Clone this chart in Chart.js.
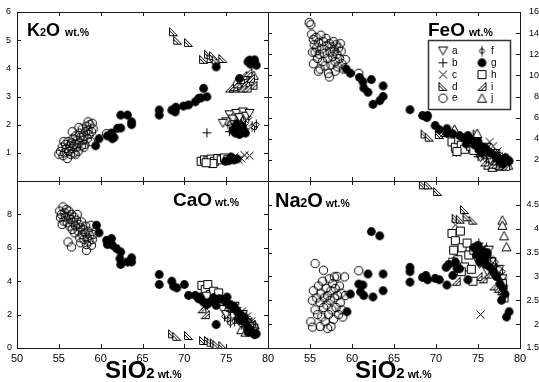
<!DOCTYPE html>
<html>
<head>
<meta charset="utf-8">
<script src="https://cdn.jsdelivr.net/npm/chart.js@4.4.0/dist/chart.umd.min.js"></script>
<style>
  body { margin: 0; background: #fff; }
  #wrap { position: relative; width: 539px; height: 382px; }
  #wrap canvas { position: absolute; left: 0; top: 0; }
</style>
</head>
<body>
<div id="wrap">
  <canvas id="k2o" width="539" height="382"></canvas>
  <canvas id="feo" width="539" height="382"></canvas>
  <canvas id="cao" width="539" height="382"></canvas>
  <canvas id="na2o" width="539" height="382"></canvas>
</div>
<script>
// groups a..j, each as [SiO2, oxide] pairs
const groups = ['a', 'b', 'c', 'd', 'e', 'f', 'g', 'h', 'i', 'j'];

// K2O wt.%
const k2o_a = [[75.0,2.1],[75.4,2.35],[75.8,2.2],[76.2,2.4],[76.6,2.25],[77.0,2.45],[77.4,2.3],[77.8,2.4],[76.0,2.0],[74.6,2.05]];
const k2o_b = [[72.7,1.71],[75.4,1.75],[76.2,1.95],[76.8,2.05],[77.3,1.85]];
const k2o_c = [[75.5,0.78],[76.0,0.86],[76.5,0.75],[76.8,0.8],[77.2,0.92],[77.8,0.9]];
const k2o_d = [[68.7,5.3],[69.2,5.0],[70.5,4.92],[72.3,4.32],[72.9,4.5],[73.2,4.35],[73.5,4.45],[73.8,4.3],[74.6,4.35]];
const k2o_e = [[55.0,0.95],[55.2,1.05],[55.4,1.2],[55.5,0.9],[55.7,1.0],[55.8,1.3],[55.9,1.15],[56.0,0.8],[56.1,1.4],[56.2,1.05],[56.3,1.25],[56.4,0.95],[56.5,1.35],[56.6,1.15],[56.7,1.5],[56.8,1.0],[56.9,1.3],[57.0,1.6],[57.1,1.2],[57.2,1.45],[57.3,1.05],[57.4,1.35],[57.5,1.7],[57.6,1.55],[57.7,1.25],[57.8,1.85],[57.9,1.45],[58.0,1.6],[58.1,1.3],[58.2,1.75],[58.3,1.95],[58.4,1.5],[58.5,1.8],[58.6,1.65],[58.7,2.0],[58.8,1.4],[58.9,1.75],[59.0,2.05],[59.1,1.85],[57.4,1.9],[56.6,1.75],[55.6,1.4],[58.5,2.1],[58.0,1.2],[57.0,0.95],[60.7,1.68]];
const k2o_f = [[75.2,2.05],[75.7,1.95],[76.3,2.1],[76.8,2.2],[77.3,2.05],[77.7,2.25],[78.1,1.95],[78.4,1.9],[78.6,2.0],[77.1,2.35]];
const k2o_g = [[59.4,1.25],[59.8,1.5],[60.8,1.6],[61.3,1.7],[61.4,1.5],[61.6,1.55],[62.0,1.87],[62.4,1.88],[62.4,2.34],[63.2,2.34],[63.7,2.1],[63.7,2.0],[67.0,2.52],[67.0,2.34],[68.5,2.52],[68.9,2.58],[68.9,2.45],[69.0,2.62],[69.9,2.66],[70.5,2.7],[71.3,2.81],[71.7,2.93],[72.0,2.95],[72.3,3.29],[72.7,2.99],[73.8,4.05],[77.6,4.23],[78.2,4.23],[78.6,4.11],[77.8,4.29],[77.9,4.15],[78.4,4.3],[76.6,3.64],[75.8,1.8],[76.1,1.7],[76.4,1.9],[76.7,1.75],[77.0,1.85],[77.3,1.7],[76.2,2.0],[76.9,1.95],[76.6,1.65],[75.9,0.75],[75.3,0.72],[75.6,0.85],[76.3,0.78],[74.9,0.7]];
const k2o_h = [[72.0,0.7],[72.4,0.75],[72.8,0.72],[73.2,0.78],[73.6,0.7],[74.0,0.8],[74.4,0.75],[74.8,0.82],[73.4,0.62],[72.6,0.65],[75.2,0.76]];
const k2o_i = [[75.4,3.3],[75.9,3.35],[76.3,3.45],[76.7,3.6],[77.0,3.75],[77.3,3.5],[77.6,3.85],[77.9,3.65],[78.2,3.4],[76.9,3.3],[77.5,3.3]];
const k2o_j = [[76.0,3.3],[76.5,3.4],[77.0,3.5],[77.4,3.65],[77.8,3.55],[78.3,3.75],[77.2,3.35],[76.2,3.5]];

// FeO wt.%
const feo_a = [[74.9,2.6],[75.3,2.2],[75.7,2.9],[76.1,2.4],[76.5,2.0],[77.0,2.6],[77.4,1.9],[74.6,3.1],[77.8,1.7],[76.0,3.2]];
const feo_b = [[72.4,2.7],[75.0,2.3],[76.0,2.1],[76.7,2.5],[77.3,1.9]];
const feo_c = [[72.4,2.7],[76.4,3.7],[76.8,3.3],[77.3,2.8],[75.8,2.5],[77.8,2.3]];
const feo_d = [[68.7,4.45],[69.2,4.15],[70.4,4.4],[72.3,3.6],[72.9,3.9],[73.5,3.4],[74.0,3.3],[74.6,3.0],[74.9,4.45]];
const feo_e = [[54.9,15.0],[55.1,14.8],[55.2,13.9],[55.4,13.4],[55.5,12.9],[55.6,12.2],[55.4,11.1],[55.7,13.6],[55.8,12.6],[55.9,11.6],[56.0,13.1],[56.1,12.0],[56.2,10.6],[56.3,13.8],[56.4,12.5],[56.5,11.3],[56.6,13.2],[56.7,12.1],[56.8,10.9],[56.9,13.5],[57.0,12.8],[57.1,11.6],[57.2,10.2],[57.3,13.0],[57.4,12.2],[57.5,11.0],[57.6,12.7],[57.7,11.8],[57.8,13.2],[57.9,12.3],[58.0,11.3],[58.1,12.9],[58.2,12.0],[58.3,10.8],[58.4,12.6],[58.5,11.6],[58.6,13.0],[58.7,12.3],[58.8,11.1],[59.0,10.6],[56.0,10.4],[57.3,9.85],[58.0,10.4],[59.2,11.5],[55.3,12.2],[60.8,10.2]];
const feo_f = [[75.2,2.8],[75.6,2.4],[76.0,3.0],[76.4,2.6],[76.8,2.2],[77.2,2.0],[77.6,2.5],[78.0,1.8],[78.4,1.9],[77.9,2.2]];
const feo_g = [[59.3,10.6],[59.8,10.2],[60.9,9.8],[61.3,9.4],[61.4,8.8],[61.9,8.4],[62.3,9.6],[62.5,7.25],[63.3,7.6],[63.7,9.0],[63.7,8.0],[66.9,6.75],[68.4,6.2],[68.9,6.0],[69.0,6.2],[69.9,5.25],[70.4,4.85],[71.3,4.95],[71.3,4.5],[72.0,4.47],[72.8,4.3],[73.8,4.3],[75.0,3.7],[75.6,3.2],[77.0,2.4],[77.4,2.1],[78.6,1.87],[73.2,4.1],[73.6,3.5],[74.2,3.9],[74.6,3.4],[75.1,3.0],[75.4,2.7],[75.9,3.1],[76.2,2.8],[76.6,2.6],[77.2,2.3],[77.6,2.0],[78.0,1.6],[78.3,2.2],[78.7,1.9]];
const feo_h = [[71.9,3.7],[72.3,3.2],[72.7,3.9],[73.0,3.4],[73.4,3.0],[73.8,3.8],[74.1,3.3],[74.5,2.9],[74.9,3.6],[75.2,3.1],[72.5,2.8]];
const feo_i = [[75.8,1.8],[76.3,2.2],[76.7,1.6],[77.1,1.9],[77.5,1.5],[77.9,1.7],[78.3,1.4],[76.9,2.4],[71.0,4.6]];
const feo_j = [[72.2,4.9],[76.2,1.5],[76.7,1.3],[77.2,1.6],[77.7,1.4],[78.2,1.6],[78.6,1.5],[74.9,4.5]];

// CaO wt.%
const cao_a = [[74.6,2.3],[75.0,2.0],[75.4,2.4],[75.8,1.9],[76.2,2.2],[76.6,1.7],[77.0,2.0],[77.4,1.5],[77.8,1.3],[76.0,2.5]];
const cao_b = [[72.6,2.8],[75.5,2.2],[76.3,1.8],[76.9,1.6],[77.4,1.9]];
const cao_c = [[72.4,2.5],[75.3,2.6],[76.1,2.4],[76.9,2.2],[77.5,1.9],[78.0,1.6]];
const cao_d = [[68.6,0.85],[69.1,0.7],[70.5,0.75],[72.3,0.45],[72.9,0.45],[73.2,0.35],[73.6,0.3],[73.9,0.2],[74.6,0.15]];
const cao_e = [[55.1,8.2],[55.2,7.8],[55.3,8.0],[55.5,8.45],[55.6,7.6],[55.7,8.1],[55.8,7.85],[55.9,8.3],[56.0,7.5],[56.1,7.9],[56.2,8.2],[56.3,7.3],[56.4,7.7],[56.5,8.0],[56.6,7.1],[56.7,7.5],[56.8,7.85],[56.9,6.9],[57.0,7.3],[57.1,7.65],[57.2,8.0],[57.3,7.0],[57.4,7.4],[57.5,6.6],[57.6,7.2],[57.7,7.55],[57.8,6.8],[57.9,7.1],[58.0,6.5],[58.1,6.9],[58.2,7.3],[58.3,6.2],[58.4,6.6],[58.5,7.0],[58.6,6.4],[58.7,6.75],[58.8,7.35],[58.9,6.15],[59.0,6.5],[59.1,6.8],[56.1,6.35],[56.5,6.05],[58.3,5.85],[55.4,7.4],[57.6,6.3]];
const cao_f = [[74.8,1.9],[75.2,1.7],[75.6,2.1],[76.0,1.6],[76.4,1.9],[76.8,1.4],[77.2,1.7],[77.6,1.3],[78.0,1.1],[75.5,1.5]];
const cao_g = [[59.5,7.35],[59.8,6.9],[60.7,6.45],[60.8,6.2],[61.3,6.55],[61.4,6.15],[61.9,5.95],[62.4,5.75],[62.3,5.35],[62.4,5.0],[63.2,5.15],[63.7,5.4],[63.7,5.15],[67.0,4.4],[67.0,3.8],[68.5,4.0],[68.7,3.7],[69.1,3.6],[70.0,3.8],[70.5,3.15],[71.3,3.15],[71.7,2.95],[72.3,2.75],[72.7,2.6],[73.8,2.55],[73.8,1.4],[75.1,3.05],[75.8,2.45],[76.6,1.65],[77.6,0.95],[78.4,0.8],[71.9,3.05],[72.0,2.9],[73.0,2.75],[73.5,3.0],[74.2,2.95],[74.6,2.9],[75.0,2.75],[75.4,2.6],[75.9,2.5],[76.3,2.2],[76.8,1.95],[77.2,1.6],[77.5,1.3],[77.9,1.1],[78.2,0.9],[78.6,0.85]];
const cao_h = [[72.1,3.75],[72.5,3.5],[72.8,3.8],[73.1,3.2],[73.5,3.4],[73.8,3.0],[74.1,3.3],[74.4,2.8],[73.3,2.9],[72.6,3.1],[77.8,1.2],[78.1,1.0]];
const cao_i = [[72.1,2.35],[72.5,2.0],[75.2,2.6],[75.9,2.3],[76.5,2.0],[77.1,1.8],[77.6,1.6],[78.0,1.4],[78.3,1.2]];
const cao_j = [[76.8,1.1],[77.3,0.95],[77.8,1.2],[78.2,1.0],[78.4,1.4]];

// Na2O wt.%
const na2o_a = [[74.7,3.4],[75.2,3.25],[75.7,3.45],[76.1,3.1],[76.6,3.3],[77.0,3.0],[77.5,3.15],[74.9,3.6],[77.9,2.95],[76.3,3.55]];
const na2o_b = [[72.5,3.4],[75.1,3.7],[75.8,3.55],[76.5,3.4],[77.2,3.2]];
const na2o_c = [[72.3,4.08],[75.3,2.2],[76.4,3.35],[77.0,3.15],[77.6,3.0],[78.0,2.9]];
const na2o_d = [[68.5,4.92],[69.1,4.92],[70.2,4.78],[72.4,4.22],[72.9,4.2],[73.4,4.4],[74.4,4.18],[73.7,4.25]];
const na2o_e = [[55.6,3.27],[56.6,3.13],[57.9,2.99],[59.1,2.99],[60.8,3.12],[55.1,2.05],[55.3,1.94],[57.1,1.91],[55.4,2.7],[55.6,2.3],[55.8,2.55],[55.9,2.2],[56.0,2.8],[56.2,2.45],[56.3,2.65],[56.4,2.15],[56.5,2.9],[56.6,2.35],[56.7,2.55],[56.8,2.05],[56.9,2.75],[57.0,2.4],[57.1,2.6],[57.2,2.2],[57.3,2.95],[57.4,2.5],[57.5,2.7],[57.6,2.3],[57.7,2.85],[57.8,2.1],[57.9,2.55],[58.0,2.75],[58.1,2.35],[58.2,3.0],[58.3,2.6],[58.4,2.2],[58.5,2.8],[58.6,2.45],[58.7,2.65],[58.8,2.3],[58.9,2.15],[57.5,1.95],[56.2,1.95],[55.3,2.5],[59.2,2.6]];
const na2o_f = [[74.8,3.6],[75.3,3.5],[75.8,3.3],[76.3,3.45],[76.7,3.15],[77.1,3.3],[77.5,3.0],[77.9,3.1],[78.2,2.8],[76.0,3.6]];
const na2o_g = [[59.4,2.26],[59.8,2.63],[60.8,2.84],[61.3,2.82],[61.0,2.68],[61.4,2.6],[61.9,3.05],[62.5,2.57],[62.3,3.94],[63.3,3.85],[63.7,3.05],[63.7,2.7],[66.9,3.19],[66.9,3.1],[66.9,2.88],[68.4,2.98],[68.8,3.02],[69.0,2.93],[69.9,2.96],[70.4,2.93],[71.3,2.82],[71.2,3.19],[71.5,3.25],[72.0,3.02],[72.5,3.17],[72.3,3.3],[72.8,3.16],[73.8,2.93],[75.0,3.52],[75.8,3.34],[78.2,2.63],[78.7,2.26],[78.4,2.15],[77.8,2.5],[74.5,3.6],[74.8,3.45],[75.0,3.65],[75.2,3.3],[75.4,3.55],[75.6,3.4],[75.9,3.25],[76.1,3.5],[76.4,3.2],[76.8,3.1],[77.2,3.0],[77.6,2.85],[78.0,2.75]];
const na2o_h = [[71.9,3.9],[72.1,3.55],[72.3,3.75],[72.6,3.35],[72.9,3.95],[73.1,3.6],[73.4,3.2],[73.7,3.7],[73.9,3.45],[74.2,3.15],[74.5,3.55],[72.0,3.3],[73.0,3.1],[77.9,2.85],[78.1,2.55],[74.4,2.9]];
const na2o_i = [[75.0,3.0],[75.6,2.95],[76.2,3.05],[76.9,2.8],[77.4,2.75],[77.8,2.7],[78.0,2.6],[72.4,2.9]];
const na2o_j = [[77.9,4.18],[77.9,4.07],[78.1,3.85],[78.4,3.62],[76.8,3.3],[77.3,3.1],[77.8,2.9]];

const FONT = "'Liberation Sans', Arial, sans-serif";

// symbol images, one per group
function marker(draw) {
    const c = document.createElement('canvas');
    c.width = 11; c.height = 11;
    const g = c.getContext('2d');
    g.lineWidth = 1; g.strokeStyle = '#000'; g.fillStyle = '#fff';
    g.beginPath();
    draw(g);
    return c;
}
function poly(g, pts, fill) {
    g.moveTo(pts[0][0], pts[0][1]);
    pts.slice(1).forEach(p => g.lineTo(p[0], p[1]));
    g.closePath();
    if (fill) g.fill();
    g.stroke();
}
const marks = {
    a: marker(g => poly(g, [[1, 1.5], [10, 1.5], [5.5, 9.5]], true)),
    b: marker(g => { g.moveTo(5.5, 1); g.lineTo(5.5, 10); g.moveTo(1, 5.5); g.lineTo(10, 5.5); g.stroke(); }),
    c: marker(g => { g.moveTo(1.5, 1.5); g.lineTo(9.5, 9.5); g.moveTo(9.5, 1.5); g.lineTo(1.5, 9.5); g.stroke(); }),
    d: marker(g => { poly(g, [[1.5, 1.5], [1.5, 9.5], [9.5, 9.5]], true); g.beginPath(); g.moveTo(1.5, 4.5); g.lineTo(6.5, 9.5); g.stroke(); }),
    e: marker(g => { g.arc(5.5, 5.5, 4.2, 0, Math.PI * 2); g.stroke(); }),
    f: marker(g => { poly(g, [[5.5, 2.5], [8.5, 5.5], [5.5, 8.5], [2.5, 5.5]], true); g.beginPath(); g.moveTo(5.5, 0.5); g.lineTo(5.5, 10.5); g.stroke(); }),
    g: marker(g => { g.fillStyle = '#000'; g.arc(5.5, 5.5, 4.4, 0, Math.PI * 2); g.fill(); }),
    h: marker(g => { g.rect(1.5, 1.5, 8, 8); g.fill(); g.stroke(); }),
    i: marker(g => { poly(g, [[9.5, 1.5], [9.5, 9.5], [1.5, 9.5]], true); g.beginPath(); g.moveTo(9.5, 4.5); g.lineTo(4.5, 9.5); g.stroke(); }),
    j: marker(g => poly(g, [[5.5, 1], [10, 9.5], [1, 9.5]], true))
};

function richText(ctx, parts, x, y) {
    ctx.textAlign = 'left';
    ctx.textBaseline = 'alphabetic';
    ctx.fillStyle = '#000';
    parts.forEach(([t, f, dx]) => {
        x += dx || 0;
        ctx.font = f;
        ctx.fillText(t, x, y);
        x += ctx.measureText(t).width;
    });
}

const panelPlugin = {
    id: 'panel',
    afterDatasetsDraw(chart, args, opts) {
        const { ctx, chartArea: a, scales: { x, y } } = chart;
        ctx.save();
        // frame with inward ticks
        ctx.strokeStyle = '#1a1a1a';
        ctx.lineWidth = 1;
        ctx.strokeRect(Math.round(a.left) + 0.5, Math.round(a.top) + 0.5, Math.round(a.width), Math.round(a.height));
        ctx.beginPath();
        x.ticks.forEach(t => {
            const p = Math.round(x.getPixelForValue(t.value)) + 0.5;
            if (p < a.left + 2 || p > a.right - 2) return;
            ctx.moveTo(p, a.top); ctx.lineTo(p, a.top + 4);
            ctx.moveTo(p, a.bottom); ctx.lineTo(p, a.bottom - 4);
        });
        y.ticks.forEach(t => {
            const p = Math.round(y.getPixelForValue(t.value)) + 0.5;
            if (p < a.top + 2 || p > a.bottom - 2) return;
            ctx.moveTo(a.left, p); ctx.lineTo(a.left + 4, p);
            ctx.moveTo(a.right, p); ctx.lineTo(a.right - 4, p);
        });
        ctx.stroke();
        // panel title
        richText(ctx, opts.title, opts.titleAt[0], opts.titleAt[1]);
        if (opts.axisTitleAt) {
            richText(ctx, [['SiO', 'bold 24px ' + FONT], ['2', 'bold 15px ' + FONT], ['wt.%', 'bold 10.5px ' + FONT, 3]],
                opts.axisTitleAt[0], opts.axisTitleAt[1]);
        }
        if (opts.legend) {
            ctx.strokeStyle = '#333';
            ctx.lineWidth = 1.5;
            ctx.strokeRect(428.5, 40.5, 82, 69);
            ctx.font = '10px ' + FONT;
            ctx.fillStyle = '#000';
            ctx.textBaseline = 'middle';
            ctx.textAlign = 'left';
            groups.forEach((k, n) => {
                const col = n < 5 ? 0 : 1, row = n % 5;
                const sx = col ? 482 : 443, ty = 51 + row * 11.8;
                const img = marks[k];
                ctx.drawImage(img, sx - img.width / 2, ty - img.height / 2);
                ctx.fillText(k, sx + 9, ty + 0.5);
            });
        }
        ctx.restore();
    }
};

// draw order: first listed ends on top
const drawOrder = ['g', 'h', 'c', 'b', 'a', 'f', 'i', 'j', 'd', 'e'];

function makeChart(id, data, cfg) {
    const tickFont = { family: FONT, size: 9 };
    return new Chart(document.getElementById(id), {
        type: 'scatter',
        data: {
            datasets: drawOrder.map(k => ({
                label: k,
                data: data[k],
                pointStyle: marks[k],
                pointRadius: 4,
                pointHoverRadius: 4
            }))
        },
        options: {
            responsive: false,
            animation: false,
            events: [],
            layout: { padding: cfg.padding },
            plugins: {
                legend: { display: false },
                tooltip: { enabled: false },
                panel: cfg.panel
            },
            scales: {
                x: {
                    type: 'linear', min: 50, max: 80,
                    grid: { display: false, drawTicks: false },
                    border: { display: false },
                    ticks: {
                        stepSize: 5, display: cfg.xLabels, padding: 4, color: '#000',
                        font: { family: FONT, size: 11 },
                        callback: v => (cfg.skipX50 && v === 50) ? '' : v
                    },
                    afterFit: s => { s.height = cfg.xLabels ? 34 : 0; }
                },
                y: {
                    type: 'linear', position: cfg.yPos, min: cfg.yMin, max: cfg.yMax,
                    grid: { display: false, drawTicks: false },
                    border: { display: false },
                    ticks: {
                        stepSize: cfg.yStep, padding: cfg.yPad, color: '#000', font: tickFont,
                        crossAlign: cfg.yPos === 'right' ? 'far' : 'near',
                        callback: v => cfg.yHide.includes(v) ? '' : v
                    },
                    afterFit: s => { s.width = cfg.yPos === 'right' ? 19 : 17; }
                }
            }
        },
        plugins: [panelPlugin]
    });
}

makeChart('k2o',
    { a: k2o_a, b: k2o_b, c: k2o_c, d: k2o_d, e: k2o_e, f: k2o_f, g: k2o_g, h: k2o_h, i: k2o_i, j: k2o_j },
    {
        padding: { left: 0, top: 12, right: 271, bottom: 201 },
        xLabels: false, yPos: 'left', yMin: 0, yMax: 6, yStep: 1, yPad: 6, yHide: [0],
        panel: {
            title: [['K', 'bold 18px ' + FONT], ['2', 'bold 11px ' + FONT], ['O', 'bold 18px ' + FONT], ['wt.%', 'bold 10.5px ' + FONT, 5]],
            titleAt: [27, 35.5]
        }
    });

makeChart('feo',
    { a: feo_a, b: feo_b, c: feo_c, d: feo_d, e: feo_e, f: feo_f, g: feo_g, h: feo_h, i: feo_i, j: feo_j },
    {
        padding: { left: 268, top: 12, right: 0, bottom: 201 },
        xLabels: false, yPos: 'right', yMin: 0, yMax: 16, yStep: 2, yPad: 4, yHide: [0],
        panel: {
            title: [['FeO', 'bold 19px ' + FONT], ['wt.%', 'bold 10.5px ' + FONT, 4]],
            titleAt: [428, 36],
            legend: true
        }
    });

makeChart('cao',
    { a: cao_a, b: cao_b, c: cao_c, d: cao_d, e: cao_e, f: cao_f, g: cao_g, h: cao_h, i: cao_i, j: cao_j },
    {
        padding: { left: 0, top: 181, right: 271, bottom: 0 },
        xLabels: true, yPos: 'left', yMin: 0, yMax: 10, yStep: 2, yPad: 5, yHide: [10],
        panel: {
            title: [['CaO', 'bold 19px ' + FONT], ['wt.%', 'bold 10.5px ' + FONT, 3]],
            titleAt: [173, 206],
            axisTitleAt: [105, 378]
        }
    });

makeChart('na2o',
    { a: na2o_a, b: na2o_b, c: na2o_c, d: na2o_d, e: na2o_e, f: na2o_f, g: na2o_g, h: na2o_h, i: na2o_i, j: na2o_j },
    {
        padding: { left: 268, top: 181, right: 0, bottom: 0 },
        xLabels: true, skipX50: true, yPos: 'right', yMin: 1.5, yMax: 5, yStep: 0.5, yPad: 2, yHide: [5],
        panel: {
            title: [['Na', 'bold 20px ' + FONT], ['2', 'bold 12px ' + FONT], ['O', 'bold 20px ' + FONT], ['wt.%', 'bold 10.5px ' + FONT, 3]],
            titleAt: [275, 206.5],
            axisTitleAt: [355, 378]
        }
    });
</script>
</body>
</html>
